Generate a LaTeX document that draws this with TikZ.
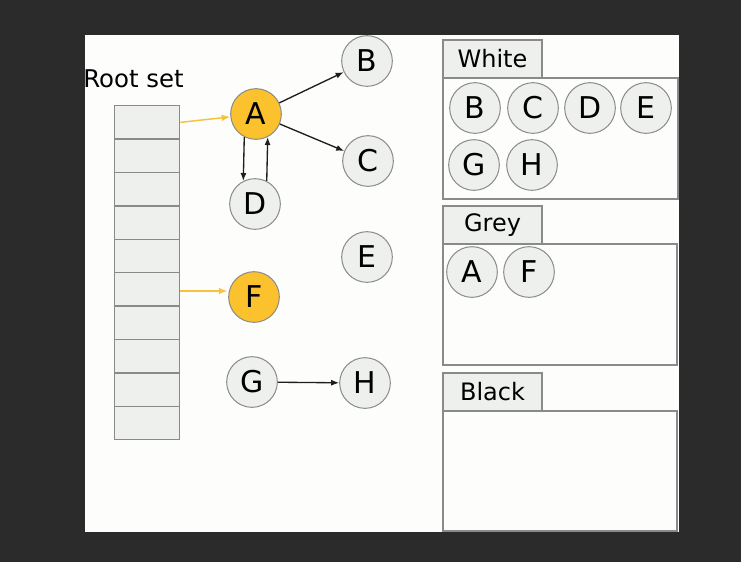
\documentclass[tikz,border=0pt]{standalone}
\usepackage{fontspec}
\setmainfont{DejaVu Sans}
\usetikzlibrary{arrows.meta}
\definecolor{bgdark}{HTML}{2B2B2B}
\definecolor{panel}{HTML}{FDFDFB}
\definecolor{cellfill}{HTML}{EEF0EE}
\definecolor{edgegrey}{HTML}{8A8A8A}
\definecolor{gold}{HTML}{FBC22D}
\definecolor{goldline}{HTML}{F8C23E}
\definecolor{ink}{HTML}{1E1E1E}
\tikzset{
  obj/.style={circle, draw=edgegrey, line width=0.75pt, fill=cellfill, minimum size=38pt, inner sep=0pt, font=\fontsize{22.5}{24}\selectfont},
  marked/.style={obj, fill=gold},
  cell/.style={rectangle, draw=edgegrey, line width=1pt, fill=cellfill, minimum width=48.75pt, minimum height=25.05pt, inner sep=0pt, anchor=north west},
  tab/.style={rectangle, draw=edgegrey, line width=1pt, fill=cellfill, minimum width=74.25pt, minimum height=28.5pt, inner sep=0pt, font=\fontsize{18}{20}\selectfont},
  setbox/.style={draw=edgegrey, line width=1pt, fill=panel},
  arr/.style={draw=ink, line width=1pt, -{Latex[length=6pt,width=4.5pt]}},
  rootarr/.style={draw=goldline, line width=1.1pt, -{Latex[length=6.5pt,width=5pt]}},
  lbl/.style={font=\fontsize{18.3}{20}\selectfont, inner sep=0pt}
}
\begin{document}
\begin{tikzpicture}[x=0.75pt,y=-0.75pt]
\fill[bgdark] (0,0) rectangle (741,562);
\useasboundingbox (0,0) rectangle (741,562);
\fill[panel] (85,35) rectangle (679,532);

% root set
\node[lbl] (rootlbl) at (133.5,79) {Root set};
\foreach \i in {1,...,10} {
  \node[cell] (c\i) at (114,{105+(\i-1)*33.4}) {};
}

% heap objects
\node[marked] (A) at (256,114) {A};
\node[obj] (B) at (367,61) {B};
\node[obj] (C) at (368,161) {C};
\node[obj] (D) at (255,204) {D};
\node[obj] (E) at (367,257) {E};
\node[marked] (F) at (254,297) {F};
\node[obj] (G) at (252,382) {G};
\node[obj] (H) at (365,383) {H};

\coordinate (fs) at (180,291);
\coordinate (fe) at (227.5,291);
\draw[rootarr] (c1.east) -- (A);
\draw[rootarr] (fs) -- (fe);
\draw[arr] (A) -- (B);
\draw[arr] (A) -- (C);
\draw[arr] (A.243) -- (D.117);
\draw[arr] (D.63) -- (A.297);
\draw[arr] (G) -- (H);

% White set
\draw[setbox] (443,78) rectangle (678,199);
\node[tab] (wt) at (492.5,59) {White};
\node[obj] (wB) at (475,108) {B};
\node[obj] (wC) at (533,108) {C};
\node[obj] (wD) at (590,108) {D};
\node[obj] (wE) at (646,108) {E};
\node[obj] (wG) at (474,165) {G};
\node[obj] (wH) at (532,165) {H};

% Grey set
\draw[setbox] (443,244) rectangle (677,365);
\node[tab] (gt) at (492.5,225) {Grey};
\node[obj] (gA) at (472,272) {A};
\node[obj] (gF) at (529,272) {F};

% Black set
\draw[setbox] (443,411) rectangle (677,531);
\node[tab] (bt) at (492.5,392) {Black};
\end{tikzpicture}
\end{document}
